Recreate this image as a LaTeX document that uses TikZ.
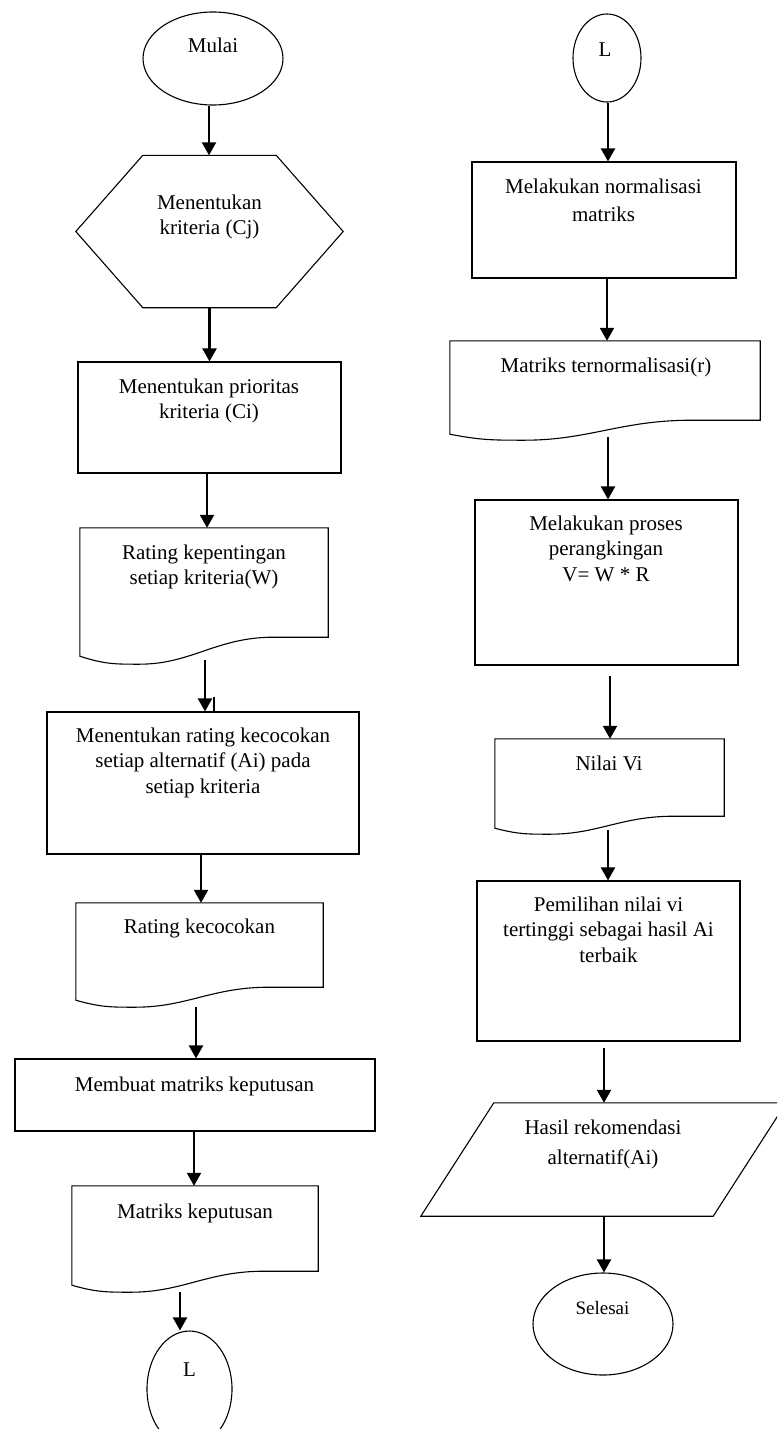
\documentclass[tikz,border=0pt]{standalone}
\usepackage{fontspec}
\setmainfont{Liberation Serif}
\usepackage{tikz}
\usetikzlibrary{arrows.meta,calc,shapes.geometric}
\tikzset{
  shapeln/.style={line width=1.1pt, black},
  arrln/.style={-{Triangle[length=13pt,width=14pt]}, line width=2.2pt},
  termnode/.style={ellipse, draw, shapeln, inner sep=0pt},
  procbox/.style={rectangle, draw, shapeln, inner sep=0pt},
  frame/.style={rectangle, draw=none, inner sep=0pt},
  sz/.style 2 args={minimum width=#1pt, minimum height=#2pt},
  lbl/.style={font=\fontsize{21}{25.5}\selectfont, align=center, inner sep=0pt, anchor=north},
}
% document symbol: wavy bottom edge
\newcommand{\docwave}[3]{%
  \draw[shapeln] ([yshift=#2]#1.south east) -- (#1.north east) -- (#1.north west) -- (#1.south west)
    .. controls ($(#1.south west)!0.10!(#1.south east)+(0pt,-#3)$) and ($(#1.south west)!0.14!(#1.south east)+(0pt,-#3)$)
    .. ($(#1.south west)!0.24!(#1.south east)+(0pt,-#3)$)
    .. controls ($(#1.south west)!0.45!(#1.south east)+(0pt,-#3)$) and ($(#1.south west)!0.55!(#1.south east)+(0pt,#2)$)
    .. ($(#1.south west)!0.78!(#1.south east)+(0pt,#2)$) -- cycle;
}
\newcommand{\hexpath}[2]{%
  \draw[shapeln] (#1.west) -- ([xshift=#2]#1.north west) -- ([xshift=-#2]#1.north east) -- (#1.east)
    -- ([xshift=-#2]#1.south east) -- ([xshift=#2]#1.south west) -- cycle;
}
\newcommand{\parapath}[2]{%
  \draw[shapeln] ([xshift=#2]#1.north west) -- (#1.north east) -- ([xshift=-#2]#1.south east) -- (#1.south west) -- cycle;
}

\begin{document}
\begin{tikzpicture}[x=1pt, y=-1pt]
  \useasboundingbox (0,0) rectangle (777,1429);
  \clip (0,0) rectangle (777,1429);
  % left column
  \node[termnode, sz={140}{93}] (mulai) at (213,58.5) {};
  \node[lbl] (mulai-t) at (213,37.5) {Mulai};

  \node[frame, sz={267}{152}] (krit) at (209.5,231.5) {};
  \hexpath{krit}{67pt}
  \node[lbl] (krit-t) at (209.5,194.5) {Menentukan\\kriteria (Cj)};

  \node[procbox, sz={263}{111}] (prior) at (209.5,417.5) {};
  \node[lbl] (prior-t) at (209,378.5) {Menentukan prioritas\\kriteria (Ci)};

  \node[frame, sz={248}{128}] (bobot) at (204,592) {};
  \docwave{bobot}{19pt}{8pt}
  \node[lbl] (bobot-t) at (204,544.5) {Rating kepentingan\\setiap kriteria(W)};

  \node[procbox, sz={312}{142}] (cocok) at (203,783) {};
  \node[lbl] (cocok-t) at (203,727.5) {Menentukan rating kecocokan\\setiap alternatif (Ai) pada\\setiap kriteria};

  \node[frame, sz={247}{97}] (rcocok) at (199.5,951.5) {};
  \docwave{rcocok}{13pt}{7pt}
  \node[lbl] (rcocok-t) at (199.5,918.5) {Rating kecocokan};

  \node[procbox, sz={360}{72}] (buat) at (195,1095) {};
  \node[lbl] (buat-t) at (194.5,1076.5) {Membuat matriks keputusan};

  \node[frame, sz={246}{99}] (mkep) at (195,1235.5) {};
  \docwave{mkep}{14pt}{7pt}
  \node[lbl] (mkep-t) at (195,1203.5) {Matriks keputusan};

  \node[termnode, sz={85}{116}] (konA) at (189.5,1389) {};
  \node[lbl] (konA-t) at (189.5,1362.5) {L};

  % right column
  \node[termnode, sz={68}{88}] (konB) at (607,58) {};
  \node[lbl] (konB-t) at (605,42.5) {L};

  \node[procbox, sz={264}{116}] (norm) at (604,220) {};
  \node[lbl, font=\fontsize{21}{28}\selectfont] (norm-t) at (603.5,178.5) {Melakukan normalisasi\\matriks};

  \node[frame, sz={310}{93}] (rnorm) at (605,387.5) {};
  \docwave{rnorm}{14pt}{6pt}
  \node[lbl] (rnorm-t) at (606,357.5) {Matriks ternormalisasi(r)};

  \node[procbox, sz={263}{165}] (rank) at (606.5,582.5) {};
  \node[lbl] (rank-t) at (606,515.5) {Melakukan proses\\perangkingan\\V= W * R};

  \node[frame, sz={229}{89}] (nilai) at (609.5,783.5) {};
  \docwave{nilai}{12pt}{6pt}
  \node[lbl] (nilai-t) at (609,755.5) {Nilai Vi};

  \node[procbox, sz={263}{160}] (pilih) at (608.5,961) {};
  \node[lbl] (pilih-t) at (608.5,896.5) {Pemilihan nilai vi\\tertinggi sebagai hasil Ai\\terbaik};

  \node[frame, sz={365}{113}] (hasil) at (603.5,1159.5) {};
  \parapath{hasil}{73pt}
  \node[lbl, font=\fontsize{21}{30}\selectfont] (hasil-t) at (603,1119.5) {Hasil rekomendasi\\alternatif(Ai)};

  \node[termnode, sz={140}{102}] (selesai) at (603,1324) {};
  \node[lbl, font=\fontsize{19}{23}\selectfont] (selesai-t) at (602.5,1301.5) {Selesai};

  % flow arrows
  \foreach \a/\b/\dx/\dy in {mulai/krit/-4/0, krit/prior/0/0, prior/bobot/-2.5/0,
      bobot/cocok/1/4, cocok/rcocok/-2/0, rcocok/buat/-3.5/7, buat/mkep/-1/0,
      mkep/konA/-15/7, konB/norm/1/0, norm/rnorm/3/0, rnorm/rank/3/3,
      rank/nilai/3.5/10, nilai/pilih/-1.5/2, pilih/hasil/-4.5/6, hasil/selesai/0.5/0}
    \draw[arrln] ([xshift=\dx pt, yshift=-\dy pt]\a.south) -- ([xshift=\dx pt]\a.south |- \b.north);
  % stray tick beside the arrow
  \draw[line width=1.4pt] ([xshift=10pt]cocok.north -| bobot.south) -- ++(0,-14);
\end{tikzpicture}
\end{document}
